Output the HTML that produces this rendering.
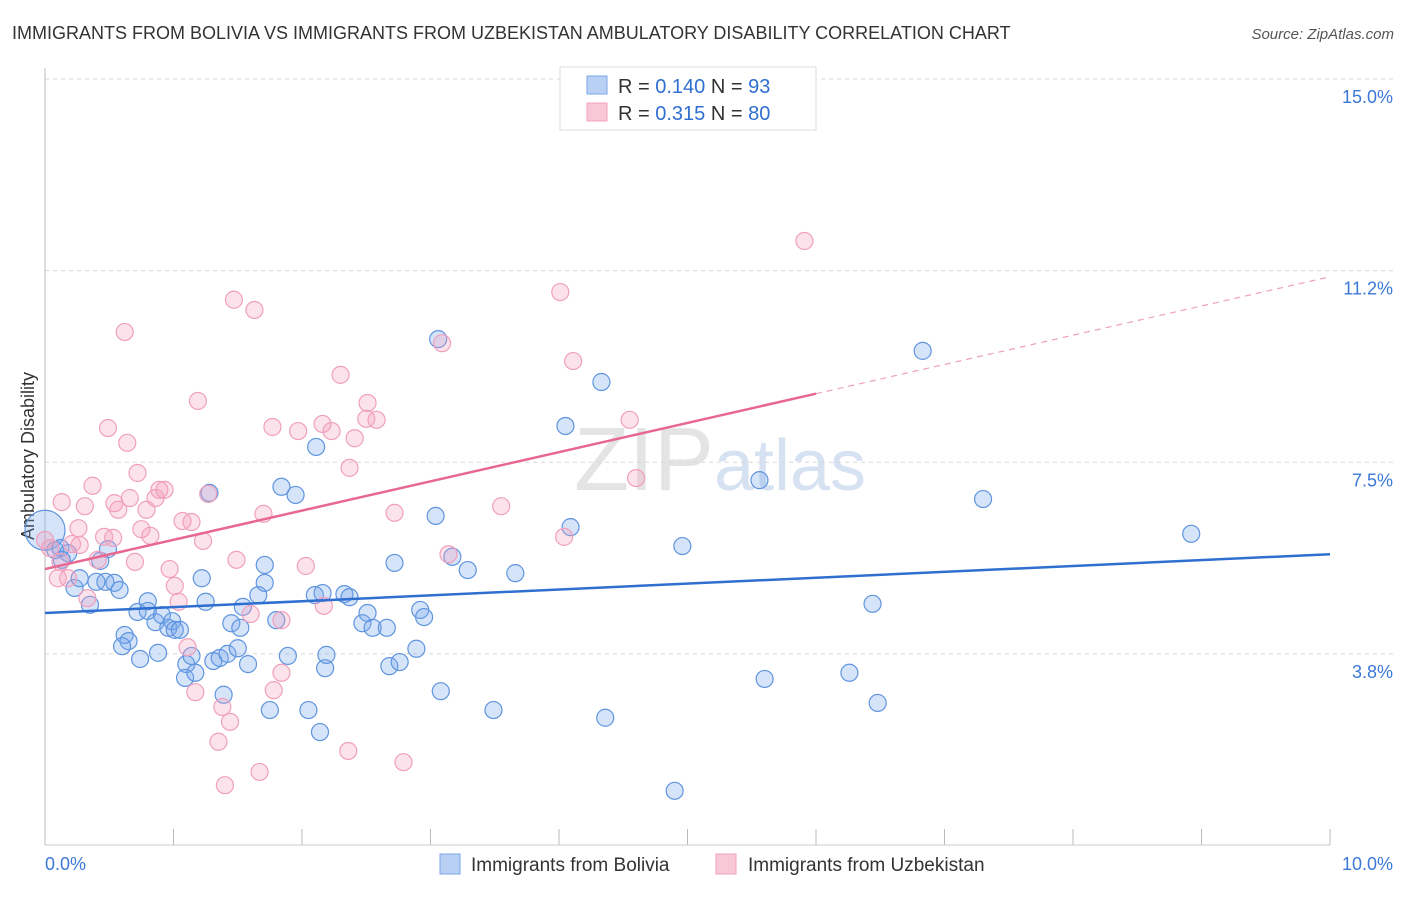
<!DOCTYPE html>
<html><head><meta charset="utf-8"><style>
body{margin:0;background:#fff;font-family:"Liberation Sans",sans-serif;}
svg text{font-family:"Liberation Sans",sans-serif;}
</style></head><body>
<svg id="chart" width="1406" height="892" xmlns="http://www.w3.org/2000/svg">
<text x="12" y="39" font-size="18" fill="#333">IMMIGRANTS FROM BOLIVIA VS IMMIGRANTS FROM UZBEKISTAN AMBULATORY DISABILITY CORRELATION CHART</text>
<text x="1394" y="39" font-size="15" fill="#555" font-style="italic" text-anchor="end">Source: ZipAtlas.com</text>
<text x="720" y="490" font-size="90" fill="#e4e4e4" text-anchor="middle" font-family="Liberation Serif">ZIP<tspan fill="#d6e2f2" font-family="Liberation Sans" font-size="72">atlas</tspan></text>
<text transform="translate(34,456) rotate(-90)" font-size="18" fill="#333" text-anchor="middle">Ambulatory Disability</text>
<g id="grid"></g>
<g id="marks"></g>
<g>
<rect x="560" y="67" width="256" height="63" fill="#fff" stroke="#ddd"/>
<rect x="587" y="76" width="20" height="18" fill="#b8d0f4" stroke="#7aa6e6"/>
<text x="618" y="93" font-size="20" fill="#333">R = <tspan fill="#2f6fd0">0.140</tspan>   N = <tspan fill="#2f6fd0">93</tspan></text>
<rect x="587" y="103" width="20" height="18" fill="#f8c8d6" stroke="#f0a0bc"/>
<text x="618" y="120" font-size="20" fill="#333">R = <tspan fill="#2f6fd0">0.315</tspan>   N = <tspan fill="#2f6fd0">80</tspan></text>
</g>
<g>
<rect x="440" y="854" width="20" height="20" fill="#b8d0f4" stroke="#7aa6e6"/>
<text x="471" y="871" font-size="19" fill="#333">Immigrants from Bolivia</text>
<rect x="716" y="854" width="20" height="20" fill="#f8c8d6" stroke="#f0a0bc"/>
<text x="748" y="871" font-size="19" fill="#333">Immigrants from Uzbekistan</text>
</g>
</svg>
<script>
const yTicks=[15.0,11.25,7.5,3.75];
const yTickLabels=["15.0%","11.2%","7.5%","3.8%"];
const xTicks=[0,1,2,3,4,5,6,7,8,9,10];
const xEndLabels=["0.0%","10.0%"];
const boliviaX=[0,0.08,0.12,0.18,0.13,0.23,0.27,0.35,0.40,0.43,0.49,0.47,0.54,0.58,0.62,0.65,0.60,0.72,0.74,0.80,0.80,0.86,0.88,0.91,0.96,0.99,1.01,1.05,1.10,1.09,1.14,1.17,1.22,1.25,1.28,1.31,1.36,1.39,1.42,1.45,1.50,1.52,1.54,1.58,1.66,1.71,1.71,1.75,1.80,1.84,1.89,1.95,2.05,2.11,2.14,2.18,2.19,2.10,2.16,2.33,2.37,2.47,2.51,2.55,2.66,2.68,2.72,2.76,2.89,2.92,2.95,3.04,3.06,3.08,3.17,3.29,3.49,3.66,4.05,4.09,4.33,4.36,4.90,4.96,5.56,5.60,6.26,6.44,6.48,6.83,7.30,8.92];
const boliviaY=[6.17,5.78,5.82,5.72,5.59,5.04,5.23,4.71,5.16,5.57,5.80,5.16,5.14,5.0,4.12,4.0,3.90,4.57,3.65,4.78,4.59,4.37,3.77,4.51,4.26,4.39,4.22,4.22,3.55,3.28,3.71,3.38,5.23,4.77,6.90,3.61,3.67,2.95,3.75,4.35,3.86,4.26,4.67,3.55,4.90,5.14,5.49,2.65,4.41,7.02,3.71,6.86,2.65,7.80,2.22,3.47,3.73,4.90,4.94,4.92,4.86,4.35,4.55,4.26,4.26,3.51,5.53,3.59,3.85,4.61,4.47,6.45,9.91,3.02,5.65,5.39,2.65,5.33,8.21,6.23,9.07,2.50,1.07,5.86,7.15,3.26,3.38,4.73,2.79,9.68,6.78,6.10];
const uzX=[0,0.04,0.12,0.10,0.13,0.18,0.21,0.26,0.27,0.31,0.33,0.37,0.41,0.46,0.49,0.53,0.54,0.57,0.62,0.64,0.66,0.70,0.72,0.75,0.79,0.82,0.86,0.89,0.93,0.97,1.01,1.04,1.07,1.11,1.14,1.17,1.19,1.23,1.27,1.38,1.35,1.40,1.44,1.47,1.49,1.60,1.63,1.67,1.70,1.77,1.78,1.84,1.84,1.97,2.03,2.16,2.17,2.23,2.30,2.36,2.37,2.41,2.50,2.51,2.58,2.72,2.79,3.09,3.14,3.55,4.01,4.04,4.11,4.55,4.60,5.91];
const uzY=[5.98,5.82,5.55,5.23,6.72,5.23,5.90,6.21,5.88,6.64,4.84,7.04,5.59,6.04,8.17,6.02,6.70,6.57,10.05,7.88,6.80,5.55,7.29,6.19,6.57,6.06,6.80,6.96,6.96,5.41,5.08,4.77,6.35,3.88,6.33,3.0,8.70,5.96,6.88,2.71,2.03,1.18,2.42,10.68,5.59,4.53,10.48,1.44,6.49,8.19,3.04,3.38,4.41,8.11,5.47,8.25,4.69,8.11,9.21,1.85,7.39,7.97,8.35,8.66,8.33,6.51,1.63,9.83,5.70,6.64,10.83,6.04,9.48,8.33,7.19,11.83];
const boliviaTrend=[4.55,5.70];
const uzTrend=[5.41,11.13];
const uzSolidEnd=6;
const NS="http://www.w3.org/2000/svg";
const X=v=>45+v*128.5;
const Y=v=>79+(15-v)*51.1;
function mk(tag,attrs,parent){const e=document.createElementNS(NS,tag);for(const k in attrs)e.setAttribute(k,attrs[k]);parent.appendChild(e);return e;}
const grid=document.getElementById('grid'),marks=document.getElementById('marks');
yTicks.forEach((t,i)=>{
 const l=mk('line',{x1:45,x2:1393,y1:Y(t),y2:Y(t),stroke:'#d8d8d8','stroke-dasharray':'4,4'},grid);
 
 
 const tx=mk('text',{x:1393,y:Y(t)+24,'font-size':18,fill:'#3b78d8','text-anchor':'end'},grid);
 tx.textContent=yTickLabels[i];
 
 
});
const ya=mk('line',{x1:45,x2:45,y1:68,y2:845,stroke:'#bbb'},grid);


const xa=mk('line',{x1:45,x2:1330,y1:845,y2:845,stroke:'#ccc'},grid);


xTicks.forEach(t=>{
 const l=mk('line',{x1:X(t),x2:X(t),y1:829,y2:845,stroke:'#bbb'},grid);
 
 
});
[[0,'start',45],[10,'end',1393]].forEach((d,i)=>{
 const tx=mk('text',{x:d[2],y:870,'font-size':18,fill:'#3b78d8','text-anchor':d[1]},grid);
 tx.textContent=xEndLabels[i];
 
 
});
boliviaX.forEach((x,i)=>{
 const c=mk('circle',{cx:X(x),cy:Y(boliviaY[i]),r:i===0?20:8.5,fill:'rgba(120,165,235,0.3)',stroke:'#5f95df','stroke-width':1.2},marks);
 
 
});
uzX.forEach((x,i)=>{
 const c=mk('circle',{cx:X(x),cy:Y(uzY[i]),r:8.5,fill:'rgba(245,160,190,0.3)',stroke:'#f0a0bc','stroke-width':1.2},marks);
 
 
});
const bt=mk('line',{x1:X(0),y1:Y(boliviaTrend[0]),x2:X(10),y2:Y(boliviaTrend[1]),stroke:'#2f6fd0','stroke-width':2.5},marks);


const uMid=uzTrend[0]+(uzTrend[1]-uzTrend[0])*uzSolidEnd/10;
const ut=mk('line',{x1:X(0),y1:Y(uzTrend[0]),x2:X(uzSolidEnd),y2:Y(uMid),stroke:'#e8678f','stroke-width':2.5},marks);


const ud=mk('line',{x1:X(uzSolidEnd),y1:Y(uMid),x2:X(10),y2:Y(uzTrend[1]),stroke:'#eea0b8','stroke-width':1.2,'stroke-dasharray':'6,5'},marks);


</script>
</body></html>
